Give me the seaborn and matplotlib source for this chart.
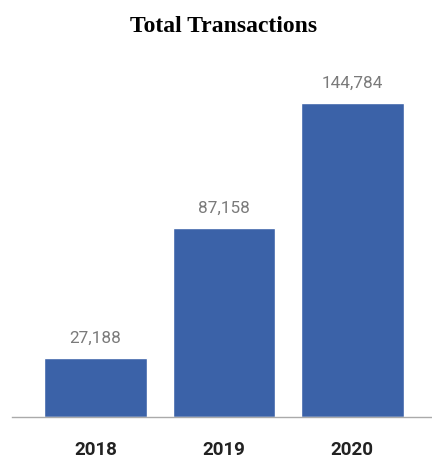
import matplotlib
matplotlib.use("Agg")
import matplotlib.pyplot as plt
import seaborn as sns
import pandas as pd

years = ["2018", "2019", "2020"]
transactions = [27188, 87158, 144784]

df = pd.DataFrame({"year": years, "transactions": transactions})

sns.set_theme(style="white")
plt.rcParams["font.family"] = ["Roboto", "DejaVu Sans"]

fig = plt.figure(figsize=(4.32, 4.58), dpi=100)
ax = fig.add_axes([12 / 432, 41 / 458, 420 / 432, 347 / 458])

sns.barplot(data=df, x="year", y="transactions", color="#3B62A8",
            width=0.8, saturation=1, ax=ax)

ax.set_xlim(-0.65, 2.62)
ax.set_ylim(0, 160000)

for i, v in enumerate(transactions):
    ax.annotate(f"{v:,}", (i, v), xytext=(0, 9), textcoords="offset points",
                ha="center", va="bottom", fontsize=12.3, color="#7a7a7a")

for s in ["top", "right", "left"]:
    ax.spines[s].set_visible(False)
ax.spines["bottom"].set_color("#aaaaaa")
ax.spines["bottom"].set_linewidth(1.0)

ax.set_yticks([])
ax.set_xlabel("")
ax.set_ylabel("")
ax.tick_params(axis="x", length=0, pad=17)
for lbl in ax.get_xticklabels():
    lbl.set_fontsize(13.5)
    lbl.set_fontweight("bold")
    lbl.set_color("#222222")

fig.text(224 / 432, 1 - 26 / 458, "Total Transactions", ha="center", va="center",
         fontsize=17, fontweight="bold", family="Liberation Serif", color="black")

fig.savefig("out.png", dpi=100)
